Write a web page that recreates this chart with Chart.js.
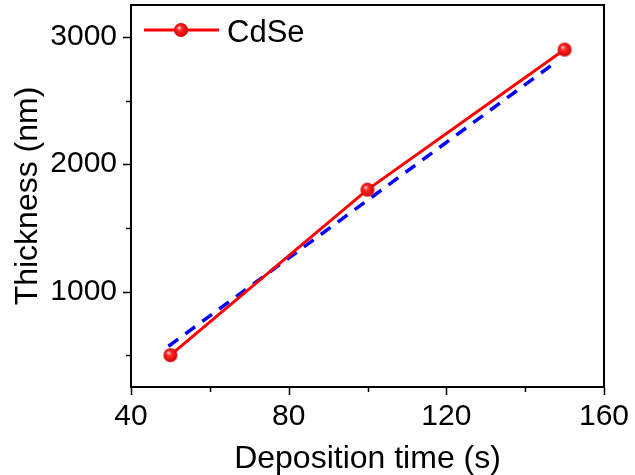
<!DOCTYPE html>
<html>
<head>
<meta charset="utf-8">
<script src="https://cdn.jsdelivr.net/npm/chart.js@4.4.1/dist/chart.umd.min.js"></script>
<style>
html, body { margin: 0; padding: 0; background: #fff; }
#wrap { width: 635px; height: 475px; }
</style>
</head>
<body>
<div id="wrap"><canvas id="chart"></canvas></div>
<script>
var times = [50, 100, 150];
var thickness = [500, 1800, 2900];
var fitTimes = [49.5, 147.5];
var fitThickness = [570, 2795];
var xTicks = [40, 60, 80, 100, 120, 140, 160];
var yTicks = [500, 1000, 1500, 2000, 2500, 3000];
var seriesName = 'CdSe';

var FONT = '"Liberation Sans", Arial, sans-serif';

// little shiny red ball used as the marker
function ball(r){
    var c = document.createElement('canvas');
    c.width = c.height = 2 * r + 2;
    var g = c.getContext('2d');
    var grad = g.createRadialGradient(r * 0.7 + 1, r * 0.65 + 1, 0.5, r + 1, r + 1, r);
    grad.addColorStop(0, '#ffc8c8');
    grad.addColorStop(0.3, '#ff2a2a');
    grad.addColorStop(1, '#d40000');
    g.fillStyle = grad;
    g.beginPath();
    g.arc(r + 1, r + 1, r, 0, 2 * Math.PI);
    g.fill();
    return c;
}
var marker = ball(7);

function pts(xs, ys){
    return xs.map(function(x, i){ return {x: x, y: ys[i]}; });
}

// no extra room for edge labels, the plot box is fixed
function noPad(s){
    s.paddingTop = 0; s.paddingBottom = 0;
    s.paddingLeft = 0; s.paddingRight = 0;
}

var frame = {
    id: 'frame',
    afterDraw: function(chart){
        var ctx = chart.ctx, a = chart.chartArea;
        var xs = chart.scales.x, ys = chart.scales.y;
        ctx.save();
        ctx.strokeStyle = '#000';
        ctx.lineWidth = 2;
        ctx.strokeRect(a.left, a.top, a.right - a.left, a.bottom - a.top);

        ctx.lineWidth = 1.5;
        ctx.beginPath();
        xTicks.forEach(function(v){
            var p = Math.round(xs.getPixelForValue(v)) + 0.5;
            var len = v % 40 === 0 ? 8 : 5;
            ctx.moveTo(p, a.bottom); ctx.lineTo(p, a.bottom + len);
        });
        yTicks.forEach(function(v){
            var p = Math.round(ys.getPixelForValue(v)) + 0.5;
            var len = v % 1000 === 0 ? 8 : 5;
            ctx.moveTo(a.left, p); ctx.lineTo(a.left - len, p);
        });
        ctx.stroke();

        // legend: line + ball + label
        var ds = chart.data.datasets[0];
        ctx.strokeStyle = ds.borderColor;
        ctx.lineWidth = 3;
        ctx.beginPath();
        ctx.moveTo(144, 30); ctx.lineTo(219, 30);
        ctx.stroke();
        ctx.drawImage(marker, 181 - 8, 30 - 8);
        ctx.fillStyle = '#000';
        ctx.font = '31px ' + FONT;
        ctx.textBaseline = 'alphabetic';
        ctx.fillText(ds.label, 227, 42);
        ctx.restore();
    }
};

new Chart(document.getElementById('chart'), {
    type: 'line',
    data: {
        datasets: [{
            label: seriesName,
            data: pts(times, thickness),
            borderColor: '#ff0000',
            borderWidth: 3,
            pointStyle: marker,
            pointRadius: 7,
            tension: 0
        }, {
            label: 'fit',
            data: pts(fitTimes, fitThickness),
            borderColor: '#0000ff',
            borderWidth: 3.5,
            borderDash: [12, 9],
            pointRadius: 0,
            tension: 0
        }]
    },
    options: {
        responsive: true,
        maintainAspectRatio: false,
        animation: false,
        layout: { autoPadding: false, padding: { top: 5, right: 31, left: 0, bottom: 0 } },
        plugins: {
            legend: { display: false },
            tooltip: { enabled: false }
        },
        scales: {
            x: {
                type: 'linear',
                min: 40,
                max: 160,
                afterBuildTicks: function(s){ s.ticks = xTicks.map(function(v){ return {value: v}; }); },
                afterFit: function(s){ s.height = 88; noPad(s); },
                grid: { drawOnChartArea: false, drawTicks: false },
                border: { display: false },
                ticks: {
                    color: '#000',
                    font: { family: FONT, size: 30 },
                    padding: 12,
                    maxRotation: 0,
                    autoSkip: false,
                    callback: function(v){ return v % 40 === 0 ? v : ''; }
                },
                title: {
                    display: true,
                    text: 'Deposition time (s)',
                    color: '#000',
                    font: { family: FONT, size: 32, lineHeight: 1 },
                    padding: { top: 0, bottom: 0 }
                }
            },
            y: {
                type: 'linear',
                min: 250,
                max: 3250,
                afterBuildTicks: function(s){ s.ticks = yTicks.map(function(v){ return {value: v}; }); },
                afterFit: function(s){ s.width = 131; noPad(s); },
                grid: { drawOnChartArea: false, drawTicks: false },
                border: { display: false },
                ticks: {
                    color: '#000',
                    font: { family: FONT, size: 30 },
                    padding: 14,
                    autoSkip: false,
                    callback: function(v){ return v % 1000 === 0 ? v : ''; }
                },
                title: {
                    display: true,
                    text: 'Thickness (nm)',
                    color: '#000',
                    font: { family: FONT, size: 32, lineHeight: 1 },
                    padding: { top: 12, bottom: 0 }
                }
            }
        }
    },
    plugins: [frame]
});
</script>
</body>
</html>
